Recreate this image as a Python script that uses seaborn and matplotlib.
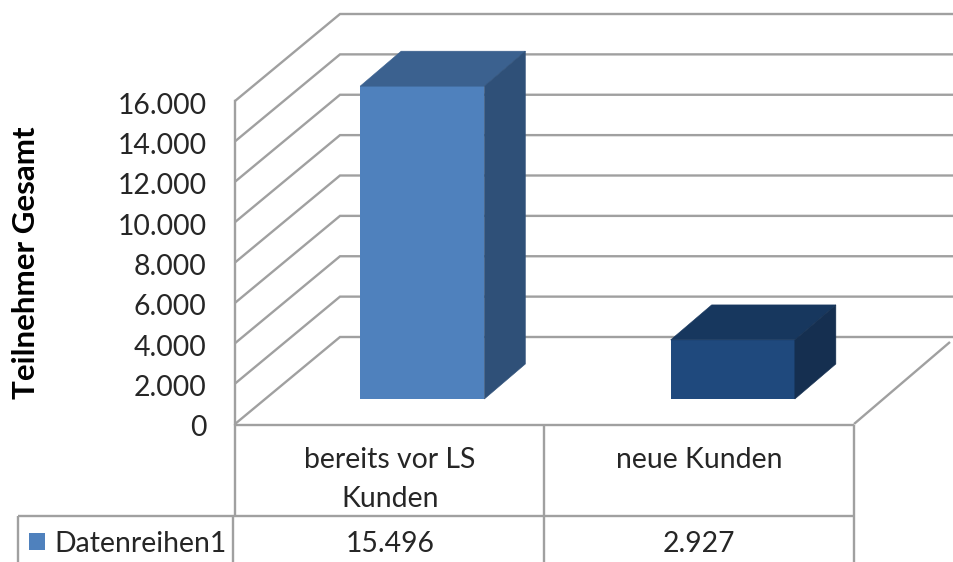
import matplotlib
matplotlib.use('Agg')
import matplotlib.pyplot as plt
import seaborn as sns
import pandas as pd
from matplotlib.patches import Polygon, Rectangle
from matplotlib.transforms import ScaledTranslation

categories = ['bereits vor LS\nKunden', 'neue Kunden']
values = [15496, 2927]
value_labels = ['15.496', '2.927']
series_name = 'Datenreihen1'
y_ticks = [0, 2000, 4000, 6000, 8000, 10000, 12000, 14000, 16000]

front_colors = ['#4F81BD', '#1F497D']
top_colors = ['#3B618F', '#17375E']
side_colors = ['#2F5078', '#152F50']
line_color = '#A0A0A0'
text_color = '#262626'
font_size = 20.4

sns.set_theme(style='white')
plt.rcParams['font.family'] = ['Lato', 'DejaVu Sans']

W, H = 954, 562
fig = plt.figure(figsize=(W / 100, H / 100), dpi=100)


def px_axes(left, right, top, bottom):
    return fig.add_axes([left / W, 1 - bottom / H, (right - left) / W, (bottom - top) / H])


# frame, grid and table are drawn in pixel coordinates
frame = fig.add_axes([0, 0, 1, 1], zorder=1)
frame.set_xlim(0, W)
frame.set_ylim(H, 0)
frame.axis('off')

px_per_unit = 323 / 16000
depth_x, depth_y = 105, 87


def seg(xs, ys):
    frame.plot(xs, ys, color=line_color, lw=1.7, solid_capstyle='butt', solid_joinstyle='miter')


for v in y_ticks:
    y = 424 - v * px_per_unit
    seg([235, 235 + depth_x, W], [y, y - depth_y, y - depth_y])
seg([854, 950], [424, 342])

# table below the plot
seg([235, 854], [425, 425])
seg([18, 854], [516, 516])
seg([235, 235], [424, 516])
seg([18, 18], [516, H])
seg([233, 233], [516, H])
seg([544, 544], [425, H])
seg([854, 854], [425, H])

for cx, cat, lab in zip([390, 699], categories, value_labels):
    frame.text(cx, 447, cat, ha='center', va='top', fontsize=font_size, color=text_color, linespacing=1.6)
    frame.text(cx, 544, lab, ha='center', va='center', fontsize=font_size, color=text_color)
frame.add_patch(Rectangle((29, 533), 16, 17, color=front_colors[0], lw=0))
frame.text(54, 544, series_name, ha='left', va='center', fontsize=font_size, color=text_color)

# y axis with its tick labels
ax_left = px_axes(235, 300, 101, 424)
ax_left.set_zorder(2)
ax_left.patch.set_alpha(0)
ax_left.set_ylim(0, 16000)
ax_left.set_xticks([])
ax_left.set_yticks(y_ticks)
ax_left.set_yticklabels([f'{v:,}'.replace(',', '.') for v in y_ticks], fontsize=font_size, color=text_color)
ax_left.tick_params(axis='y', length=0, pad=20.5)
for lab in ax_left.get_yticklabels():
    lab.set_transform(lab.get_transform() + ScaledTranslation(0, -2 / 100, fig.dpi_scale_trans))
for s in ['top', 'right', 'bottom']:
    ax_left.spines[s].set_visible(False)
ax_left.spines['left'].set_color(line_color)
ax_left.spines['left'].set_linewidth(1.7)
ax_left.set_ylabel('Teilnehmer Gesamt', fontsize=22.5, fontweight='bold', color='black')
ax_left.yaxis.set_label_coords((40 - 235) / 65, 0.5)

# bars, front faces sit on the floor of the 3D box
ax = px_axes(267, 888, 76, 399)
ax.set_zorder(3)
ax.patch.set_alpha(0)
df = pd.DataFrame({'cat': categories, 'val': values})
sns.barplot(data=df, x='cat', y='val', hue='cat', palette=front_colors, width=0.4,
            legend=False, saturation=1, linewidth=0, ax=ax)
ax.set_xlim(-0.5, 1.5)
ax.set_ylim(0, 16000)
ax.axis('off')

bar_dx = 41 / 310.5
bar_dy = 35 / px_per_unit
for bar, top_c, side_c in zip(list(ax.patches), top_colors, side_colors):
    x0, w, h = bar.get_x(), bar.get_width(), bar.get_height()
    x1 = x0 + w
    ax.add_patch(Polygon([(x0, h), (x1, h), (x1 + bar_dx, h + bar_dy), (x0 + bar_dx, h + bar_dy)],
                         closed=True, facecolor=top_c, edgecolor=top_c, lw=0.4, clip_on=False))
    ax.add_patch(Polygon([(x1, 0), (x1 + bar_dx, bar_dy), (x1 + bar_dx, h + bar_dy), (x1, h)],
                         closed=True, facecolor=side_c, edgecolor=side_c, lw=0.4, clip_on=False))

plt.savefig('out.png', dpi=100)
